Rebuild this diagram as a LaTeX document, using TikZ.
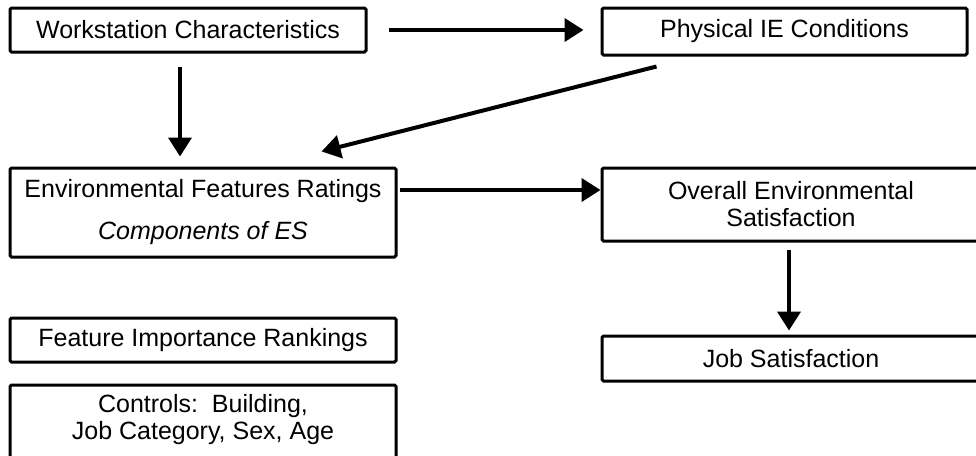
\documentclass[tikz,border=0pt]{standalone}
\usepackage{fontspec}
\setmainfont{Liberation Sans}
\usetikzlibrary{arrows.meta,calc}
\begin{document}
\begin{tikzpicture}[x=1pt,y=-1pt,
  box/.style={draw, line width=3pt, rounded corners=1.5pt, inner sep=0pt,
    align=center, font=\fontsize{25}{27}\selectfont},
  arr/.style={line width=4pt, -{Triangle[length=19pt,width=23pt]}}]
\useasboundingbox (0,0) rectangle (976,455);
\node[box, minimum width=356, minimum height=44] (wc) at (188,30) {Workstation Characteristics};
\node[box, minimum width=365, minimum height=47] (pie) at (784.5,31.5) {Physical IE Conditions};
\node[box, minimum width=386, minimum height=89] (efr) at (203,212.5)
  {Environmental Features Ratings\\[15pt]\textit{Components of ES}};
\node[box, minimum width=378, minimum height=73] (oes) at (791,204.5)
  {Overall Environmental\\Satisfaction};
\node[box, minimum width=386, minimum height=44] (fir) at (203,340) {Feature Importance Rankings};
\node[box, minimum width=378, minimum height=45] (js) at (791,358.5) {Job Satisfaction};
\node[box, minimum width=386, minimum height=90] (ctl) at (203,430)
  {Controls:\ \ Building,\\Job Category, Sex, Age\\[-1pt]};
\draw[arr, shorten <=21pt, shorten >=17pt] (wc.east) -- (wc.east -| pie.west);
\draw[arr, shorten <=13pt, shorten >=10pt] ([xshift=-8pt]wc.south) -- ([xshift=-8pt]wc.south |- efr.north);
\draw[arr] ([xshift=56pt,yshift=-10pt]pie.south west) -- ([xshift=313pt,yshift=15pt]efr.north west);
\draw[arr, shorten <=2pt] ([yshift=22.5pt]efr.east) -- ([yshift=22.5pt]efr.east -| oes.west);
\draw[arr, shorten <=7pt, shorten >=4pt] ([xshift=-2pt]oes.south) -- ([xshift=-2pt]oes.south |- js.north);
\end{tikzpicture}
\end{document}
